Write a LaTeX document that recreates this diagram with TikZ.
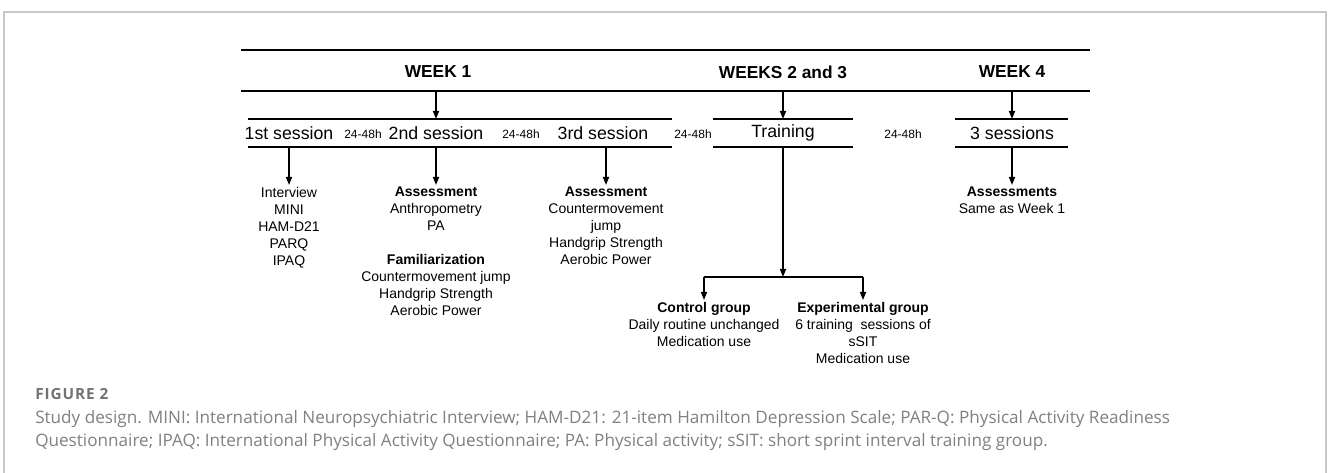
\documentclass[tikz,border=0pt]{standalone}
\usepackage{fontspec}
\setmainfont{Liberation Sans}
\newfontfamily\capfont{Open Sans}
\usetikzlibrary{
    arrows.meta,
    positioning
}
\tikzset{
    rule/.style = {
        line width=1.2pt
    },
    arrow/.style = {
        -{Triangle[length=6pt,width=4.5pt]},
        line width=1.2pt
    },
    week/.style = {
        font=\fontsize{13}{15}\selectfont\bfseries
    },
    session/.style = {
        font=\fontsize{13.3}{15}\selectfont,
        inner sep=1pt
    },
    gap/.style = {
        font=\fontsize{9}{10}\selectfont,
        inner sep=1pt
    },
    info/.style = {
        align=center,
        anchor=north,
        inner sep=0pt,
        font=\fontsize{10.5}{12.75}\selectfont
    },
    frame/.style = {
        draw=black!22,
        line width=0.8pt
    },
    caption/.style = {
        anchor=north west,
        align=left,
        inner sep=0pt,
        text=black!50,
        font=\capfont\fontsize{12.85}{17.25}\selectfont
    },
    fignum/.style = {
        anchor=north west,
        inner sep=0pt,
        text=black!55,
        font=\capfont\bfseries\fontsize{11.5}{13}\selectfont\addfontfeatures{LetterSpace=6}
    }
}

\begin{document}
\begin{tikzpicture}[x=0.75pt,y=-0.75pt]
\useasboundingbox (0,0) rectangle (1328,473);
\draw[frame] (4,473) -- (4,12) -- (1326,12) -- (1326,473);

% levels of the rules
\coordinate (ruleA) at (0,50);
\coordinate (ruleB) at (0,91);
\coordinate (ruleC) at (0,119);
\coordinate (ruleD) at (0,147);
\coordinate (split) at (783,277);

% weeks
\draw[rule] (241,50) -- (1090,50);
\draw[rule] (241,91) -- (1090,91);
\node[week] (w1) at (438,72) {WEEK 1};
\node[week] (w23) at (783,72) {WEEKS 2 and 3};
\node[week] (w4) at (1012,72) {WEEK 4};

% sessions
\draw[rule] (248,119) -- (672,119) (248,147) -- (672,147);
\draw[rule] (713,119) -- (853,119) (713,147) -- (853,147);
\draw[rule] (955,119) -- (1068,119) (955,147) -- (1068,147);
\node[session] (s1) at (289,133) {1st session};
\node[gap] (g1) at (363,134) {24-48h};
\node[session] (s2) at (436,133) {2nd session};
\node[gap] (g2) at (521,134) {24-48h};
\node[session] (s3) at (603,133) {3rd session};
\node[gap] (g3) at (693,134) {24-48h};
\node[session] (tr) at (783,133) {Training};
\node[gap] (g4) at (903,134) {24-48h};
\node[session] (s4) at (1012,133) {3 sessions};

\draw[arrow] (s2 |- ruleB) -- (s2 |- ruleC);
\draw[arrow] (tr |- ruleB) -- (tr |- ruleC);
\draw[arrow] (s4 |- ruleB) -- (s4 |- ruleC);

% what each session holds
\node[info] (i1) at (289,187) {Interview\\MINI\\HAM-D21\\PARQ\\IPAQ};
\node[info] (i2) at (436,187) {\textbf{Assessment}\\Anthropometry\\PA\\[12.75pt]
    \textbf{Familiarization}\\Countermovement jump\\Handgrip Strength\\Aerobic Power};
\node[info] (i3) at (606,187) {\textbf{Assessment}\\Countermovement\\jump\\Handgrip Strength\\Aerobic Power};
\node[info] (i4) at (1012,187) {\textbf{Assessments}\\Same as Week 1};

\draw[arrow] (i1.north |- ruleD) -- ([yshift=1.5pt]i1.north);
\draw[arrow] (i2.north |- ruleD) -- ([yshift=1.5pt]i2.north);
\draw[arrow] (i3.north |- ruleD) -- ([yshift=1.5pt]i3.north);
\draw[arrow] (i4.north |- ruleD) -- ([yshift=1.5pt]i4.north);

% groups
\node[info] (ctl) at (704,302) {\textbf{Control group}\\Daily routine unchanged\\Medication use};
\node[info] (exp) at (863,302) {\textbf{Experimental group}\\6 training~ sessions of\\sSIT\\Medication use};
\draw[arrow] (tr |- ruleD) -- (split);
\draw[rule] (ctl.north |- split) -- (exp.north |- split);
\draw[arrow] (ctl.north |- split) -- ([yshift=1.5pt]ctl.north);
\draw[arrow] (exp.north |- split) -- ([yshift=1.5pt]exp.north);

% caption
\node[fignum] (figno) at (35,388) {FIGURE 2};
\node[caption] (cap) at (35,410) {Study design. MINI: International Neuropsychiatric Interview; HAM-D21: 21-item Hamilton Depression Scale; PAR-Q: Physical Activity Readiness\\
    Questionnaire; IPAQ: International Physical Activity Questionnaire; PA: Physical activity; sSIT: short sprint interval training group.};
\end{tikzpicture}
\end{document}
